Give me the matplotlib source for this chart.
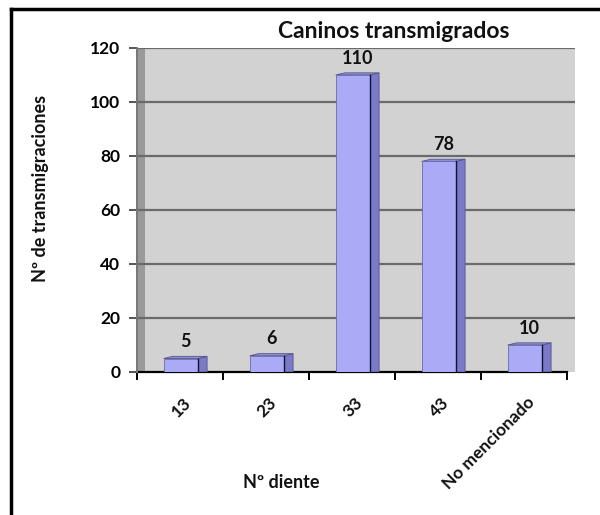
import matplotlib
matplotlib.use("Agg")
import matplotlib.pyplot as plt
from matplotlib.patches import Polygon, Rectangle
from matplotlib.lines import Line2D

categories = ["13", "23", "33", "43", "No mencionado"]
values = [5, 6, 110, 78, 10]
yticks = [0, 20, 40, 60, 80, 100, 120]

plt.rcParams['font.family'] = ['Lato', 'DejaVu Sans']
plt.rcParams['font.weight'] = 'bold'

W, H = 600, 515
fig = plt.figure(figsize=(W / 100, H / 100), dpi=100)
fig.patch.set_facecolor('white')

ax = fig.add_axes([137 / W, 1 - 372 / H, (575 - 137) / W, (372 - 48) / H])
ax.set_facecolor('#d2d2d2')

n = len(categories)
ax.set_xlim(-0.5, n - 0.5 + 8 / 86)
ax.set_ylim(0, 120)

# left side wall strip
ax.add_patch(Rectangle((0, 0), 8 / 438, 1, transform=ax.transAxes,
                       facecolor='#9a9a9a', edgecolor='none', zorder=1))

for y in yticks[1:]:
    ax.axhline(y, color='#6a6a6a', lw=1.6, zorder=2)

front_w = 0.40
side_w = 0.105
dy = 0.8
front_col = '#aaaaf6'
side_col = '#7a7ac8'
for i, v in enumerate(values):
    x0 = i - front_w / 2 + 0.01
    x1 = x0 + front_w
    ax.add_patch(Polygon([[x1, 0], [x1 + side_w, 0], [x1 + side_w, v + dy], [x1, v]],
                         closed=True, facecolor=side_col, edgecolor='#55558a', lw=0.6, zorder=3))
    ax.add_patch(Polygon([[x0, v], [x1, v], [x1 + side_w, v + dy], [x0 + side_w, v + dy]],
                         closed=True, facecolor='#9090d8', edgecolor='#55558a', lw=0.6, zorder=3))
    ax.bar(x0, v, width=front_w, align='edge', color=front_col,
           edgecolor='#6a6aa8', lw=0.6, zorder=4)
    ax.plot([x1, x1], [0, v], color='#111133', lw=1.0, zorder=5)
    ax.annotate(str(v), (i + 0.06, v), xytext=(0, 6), textcoords='offset points',
                ha='center', va='bottom', fontsize=13, fontweight='bold', color='#111111')

for s in ['top', 'right', 'left']:
    ax.spines[s].set_visible(False)
ax.spines['bottom'].set_color('black')
ax.spines['bottom'].set_linewidth(1.6)
ax.spines['bottom'].set_bounds(-0.5, n - 0.5)

ax.set_yticks(yticks)
ax.set_yticklabels([str(t) for t in yticks], fontsize=12.5, fontweight='bold')
ax.tick_params(axis='y', length=6, width=1.4, color='#555555', pad=6)

ax.set_xticks([i - 0.5 for i in range(n + 1)])
ax.set_xticklabels([])
ax.tick_params(axis='x', length=6, width=1.4, color='black', direction='out')
for i, c in enumerate(categories):
    ax.annotate(c, (i, 0), xytext=(6, -20), textcoords='offset points',
                rotation=45, rotation_mode='anchor', ha='right', va='center',
                fontsize=12.5, fontweight='bold', color='#111111', annotation_clip=False)

# left axis line
ax.plot([0, 0], [0, 1], transform=ax.transAxes, color='#777777', lw=1.4, zorder=6, clip_on=False)

fig.text(394 / W, 1 - 31 / H, "Caninos transmigrados", ha='center', va='center',
         fontsize=16.5, fontweight='bold', color='#111111')
fig.text(281 / W, 1 - 482 / H, "Nº diente", ha='center', va='center',
         fontsize=13, fontweight='bold', color='#111111')
fig.text(41 / W, 1 - 188 / H, "Nº de transmigraciones", ha='center', va='center',
         rotation=90, fontsize=13, fontweight='bold', color='#111111')

# outer border (top and left)
fig.add_artist(Line2D([11 / W, 1], [1 - 9 / H, 1 - 9 / H], color='black', lw=2.5))
fig.add_artist(Line2D([11 / W, 11 / W], [0, 1 - 9 / H], color='black', lw=2.5))

fig.savefig("out.png", dpi=100)
